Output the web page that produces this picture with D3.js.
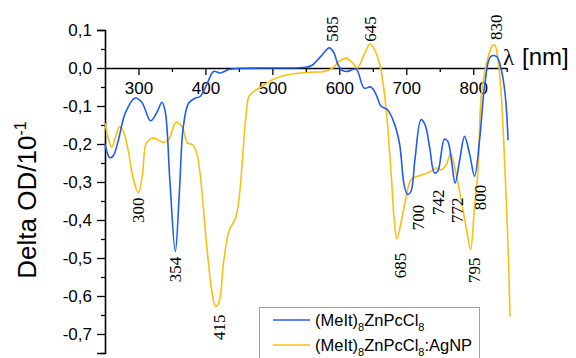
<!DOCTYPE html>
<html>
<head>
<meta charset="utf-8">
<script src="https://cdn.jsdelivr.net/npm/d3@7"></script>
<style>
  body { margin: 0; background: #fff; }
  svg { display: block; }
  .serif { font-family: "Liberation Serif", "DejaVu Serif", serif; }
  .sans { font-family: Arial, "Liberation Sans", sans-serif; }
</style>
</head>
<body>
<div id="chart"></div>
<script>
// Blue series: (MeIt)8ZnPcCl8
var blueNm = [250, 257, 262, 270, 280, 295, 305, 318, 328, 335, 340, 347, 355, 361, 367, 375, 385, 392, 402, 412,
    422, 435, 450, 500, 550, 560, 572, 585, 592, 598, 605, 612, 625, 637, 647, 655, 662, 672, 682, 690,
    697, 702, 707, 713, 722, 728, 735, 742, 747, 757, 762, 768, 773, 780, 787, 795, 802, 810, 817, 826,
    835, 842, 848, 852];
var blueVal = [-0.20, -0.236, -0.232, -0.19, -0.12, -0.079, -0.09, -0.139, -0.115, -0.09, -0.115, -0.30, -0.483, -0.33, -0.154, -0.092, -0.079, -0.075, -0.044, -0.009,
    -0.013, -0.004, -0.001, 0, 0.002, 0.008, 0.03, 0.053, 0.04, 0.009, -0.007, -0.009, -0.003, -0.053, -0.05, -0.07, -0.10, -0.11, -0.145, -0.20,
    -0.31, -0.333, -0.325, -0.24, -0.136, -0.149, -0.21, -0.276, -0.272, -0.187, -0.193, -0.25, -0.303, -0.24, -0.18, -0.23, -0.285, -0.18, -0.048, 0.03,
    0.03, -0.005, -0.075, -0.19];

// Yellow series: (MeIt)8ZnPcCl8:AgNP
var yellowNm = [250, 255, 260, 266, 272, 278, 285, 292, 300, 306, 312, 322, 330, 337, 345, 356, 365, 373, 381, 387,
    392, 397, 402, 410, 415, 420, 427, 435, 445, 450, 453, 460, 465, 472, 485, 500, 522, 557, 577, 590,
    600, 610, 620, 627, 637, 646, 655, 662, 670, 678, 682, 686, 692, 700, 707, 717, 732, 740, 745, 752,
    760, 766, 772, 782, 790, 796, 802, 807, 812, 820, 828, 832, 837, 842, 847, 852, 855];
var yellowVal = [-0.145, -0.185, -0.208, -0.18, -0.154, -0.17, -0.22, -0.29, -0.329, -0.28, -0.197, -0.184, -0.19, -0.196, -0.189, -0.143, -0.154, -0.197, -0.202, -0.224,
    -0.276, -0.37, -0.469, -0.592, -0.627, -0.618, -0.513, -0.43, -0.395, -0.347, -0.294, -0.136, -0.075, -0.062, -0.048, -0.031, -0.018, -0.011, -0.009, 0,
    0.018, 0.026, 0.013, 0, 0.035, 0.063, 0.039, -0.004, -0.11, -0.294, -0.40, -0.45, -0.408, -0.338, -0.294, -0.285, -0.276, -0.268, -0.263, -0.268,
    -0.254, -0.226, -0.259, -0.347, -0.426, -0.478, -0.364, -0.276, -0.075, 0.013, 0.057, 0.061, 0.022, -0.075, -0.25, -0.469, -0.654];

// Tick values
var xTicks = [300, 400, 500, 600, 700, 800];
var xMinorTicks = [350, 450, 550, 650, 750, 850];
var yTicks = [0.1, 0, -0.1, -0.2, -0.3, -0.4, -0.5, -0.6, -0.7];
var yMinorTicks = [0.05, -0.05, -0.15, -0.25, -0.35, -0.45, -0.55, -0.65, -0.75];

// Peak annotations (text, wavelength, value at the label's near end, above/below)
var annoText = ["585", "645", "830", "300", "354", "415", "685", "700", "742", "772", "800", "795"];
var annoNm = [590, 647, 835, 299.5, 355, 421, 692, 719, 748, 776, 811, 802];
var annoVal = [0.069, 0.069, 0.074, -0.341, -0.497, -0.649, -0.486, -0.36, -0.32, -0.341, -0.307, -0.499];
var annoUp = [true, true, true, false, false, false, false, false, false, false, false, false];

var seriesNames = ["(MeIt)", "(MeIt)"];
var seriesColors = ["#1f5cf5", "#fdbf0f"];

var width = 576, height = 358;

var svg = d3.select("#chart")
    .append("svg")
    .attr("width", width)
    .attr("height", height);

// Scales
var x = d3.scaleLinear().domain([250, 850]).range([105, 506.7]);
var y = d3.scaleLinear().domain([-0.75, 0.1]).range([353, 30]);

function fmt(d) {
    return (Math.abs(d) < 1e-9 ? 0 : d).toFixed(1).replace(".", ",");
}

// Y axis
svg.append("g")
    .attr("transform", "translate(" + x(250) + ",0)")
    .call(d3.axisLeft(y).tickValues(yTicks).tickSize(8).tickPadding(5).tickFormat(fmt))
    .call(function (g) {
        g.select(".domain").attr("stroke-width", 1.6);
        g.selectAll(".tick line").attr("stroke-width", 1.3);
        g.selectAll("text").attr("class", "sans").attr("font-family", null).style("font-size", "17px").attr("fill", "#000");
    });
svg.append("g")
    .attr("transform", "translate(" + x(250) + ",0)")
    .call(d3.axisLeft(y).tickValues(yMinorTicks).tickSize(4).tickFormat(""))
    .call(function (g) {
        g.select(".domain").remove();
        g.selectAll(".tick line").attr("stroke-width", 1.3);
    });

// X axis along y = 0
svg.append("g")
    .attr("transform", "translate(0," + y(0) + ")")
    .call(d3.axisBottom(x).tickValues(xTicks).tickSize(7).tickPadding(7).tickSizeOuter(0))
    .call(function (g) {
        g.select(".domain").attr("stroke-width", 1.6);
        g.selectAll(".tick line").attr("stroke-width", 1.3);
        g.selectAll("text").attr("class", "sans").style("font-size", "17px").attr("fill", "#000");
    });
svg.append("g")
    .attr("transform", "translate(0," + y(0) + ")")
    .call(d3.axisBottom(x).tickValues(xMinorTicks).tickSize(4).tickFormat(""))
    .call(function (g) {
        g.select(".domain").remove();
        g.selectAll(".tick line").attr("stroke-width", 1.3);
    });

// Curves
var line = d3.line()
    .x(function (d) { return x(d[0]); })
    .y(function (d) { return y(d[1]); })
    .curve(d3.curveCatmullRom.alpha(0.5));

var blueData = blueNm.map(function (n, i) { return [n, blueVal[i]]; });
var yellowData = yellowNm.map(function (n, i) { return [n, yellowVal[i]]; });

svg.append("path")
    .datum(yellowData)
    .attr("d", line)
    .attr("fill", "none")
    .attr("stroke", seriesColors[1])
    .attr("stroke-width", 1.6);

svg.append("path")
    .datum(blueData)
    .attr("d", line)
    .attr("fill", "none")
    .attr("stroke", seriesColors[0])
    .attr("stroke-width", 1.6);

// Peak labels, rotated
annoText.forEach(function (t, i) {
    svg.append("text")
        .attr("class", "serif")
        .attr("transform", "translate(" + x(annoNm[i]) + "," + y(annoVal[i]) + ") rotate(-90)")
        .attr("text-anchor", annoUp[i] ? "start" : "end")
        .attr("dominant-baseline", "central")
        .style("font-size", "17px")
        .attr("fill", "#000")
        .text(t);
});

// Axis titles
var xTitle = svg.append("text")
    .attr("x", 503)
    .attr("y", 65)
    .attr("fill", "#000");
xTitle.append("tspan")
    .attr("class", "serif")
    .style("font-size", "23px")
    .text("λ");
xTitle.append("tspan")
    .attr("class", "sans")
    .attr("x", 522)
    .style("font-size", "24px")
    .text("[nm]");

var yTitle = svg.append("text")
    .attr("class", "sans")
    .attr("transform", "translate(36,200) rotate(-90)")
    .attr("text-anchor", "middle")
    .attr("fill", "#000")
    .style("font-size", "26px");
yTitle.append("tspan").text("Delta OD/10");
yTitle.append("tspan").attr("dy", -10).style("font-size", "16px").text("-1");

// Legend
var legend = svg.append("g");
legend.append("rect")
    .attr("x", 259.5)
    .attr("y", 307.5)
    .attr("width", 220)
    .attr("height", 70)
    .attr("fill", "#fff")
    .attr("stroke", "#a0a0a0")
    .attr("stroke-width", 1);

var legendSuffix = ["", ":AgNP"];
[0, 1].forEach(function (i) {
    var ly = 320 + i * 25;
    legend.append("line")
        .attr("x1", 273).attr("x2", 310)
        .attr("y1", ly).attr("y2", ly)
        .attr("stroke", seriesColors[i])
        .attr("stroke-width", 1.6);
    var t = legend.append("text")
        .attr("class", "sans")
        .attr("x", 315)
        .attr("y", ly + 6)
        .attr("fill", "#000")
        .style("font-size", "16.5px");
    t.append("tspan").text(seriesNames[i]);
    t.append("tspan").attr("dy", 5).style("font-size", "11px").text("8");
    t.append("tspan").attr("dy", -5).text("ZnPcCl");
    t.append("tspan").attr("dy", 5).style("font-size", "11px").text("8");
    t.append("tspan").attr("dy", -5).text(legendSuffix[i]);
});
</script>
</body>
</html>
